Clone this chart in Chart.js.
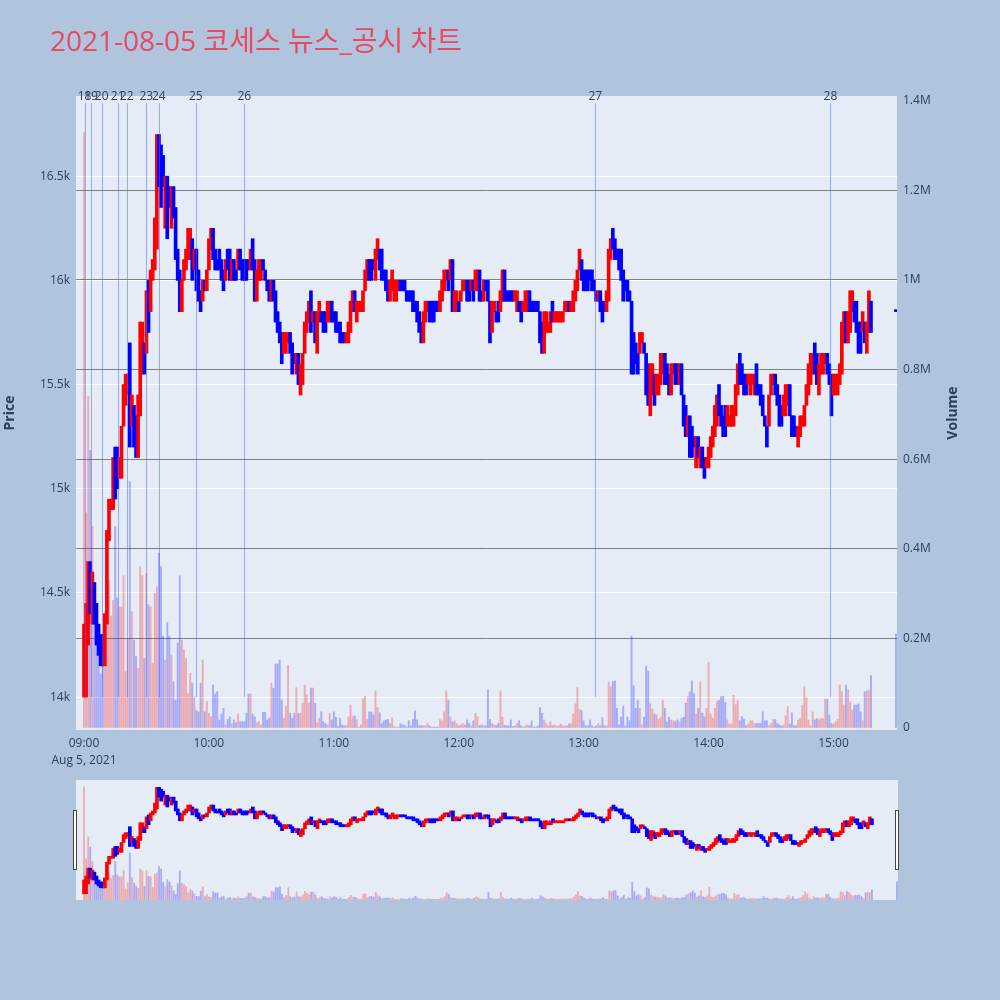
<!DOCTYPE html>
<html>
<head>
<meta charset="utf-8">
<script src="https://cdn.jsdelivr.net/npm/chart.js@4.4.1/dist/chart.umd.min.js"></script>
<style>
  html, body { margin: 0; padding: 0; background: #b0c4de; }
  #wrap { position: relative; width: 1000px; height: 1000px; overflow: hidden; }
  #main { position: absolute; left: 0; top: 0; }
  #slider { position: absolute; left: 76px; top: 780px; }
  .handle { position: absolute; top: 810px; width: 2px; height: 58px; background: #fff; border: 1px solid #444; }
</style>
</head>
<body>
<div id="wrap">
  <canvas id="main" width="1000" height="1000"></canvas>
  <canvas id="slider" width="822" height="120"></canvas>
  <div class="handle" style="left:73px"></div>
  <div class="handle" style="left:895px"></div>
</div>
<script>
// 2021-08-05 intraday, 1-minute bars from 09:00 to 15:18 plus the 15:30 closing print
const chartTitle = '2021-08-05 코세스 뉴스_공시 차트';
const dateLabel = 'Aug 5, 2021';

// minutes after 09:00 for each bar (continuous session, then closing auction)
const barMinutes = [];
for (let m = 0; m <= 378; m++) barMinutes.push(m);
barMinutes.push(390);

const openP = [
  14150,14300,14300,14650,14450,14550,14400,14300,14250,14250,
  14150,14400,14800,14900,14950,15150,15100,15050,15100,15300,
  15450,15500,15550,15300,15400,15300,15200,15400,15600,15700,
  15650,15950,15850,16000,16100,16250,16700,16550,16600,16300,
  16450,16450,16300,16450,16300,16150,16050,15850,16000,16050,
  16150,16150,16200,16050,16150,16000,15950,15900,16000,15950,
  16050,16150,16250,16150,16100,16150,16100,16050,16000,16150,
  16150,16000,16100,16050,16050,16150,16100,16100,16100,16100,
  16050,16150,16100,15900,16000,16050,16100,16050,16000,16000,
  15900,16000,15950,15850,15800,15750,15650,15650,15700,15750,
  15650,15650,15550,15650,15450,15500,15650,15750,15800,15950,
  15800,15850,15650,15800,15850,15850,15800,15800,15800,15900,
  15850,15850,15800,15800,15750,15750,15700,15700,15750,15850,
  15950,15800,15850,15850,15850,15950,16000,16100,16100,16100,
  16050,16100,16150,16100,16050,16050,16000,15900,15950,15900,
  15900,15950,16000,16000,16000,15950,15950,15950,15950,15900,
  15900,15850,15800,15700,15800,15850,15900,15900,15900,15900,
  15900,15850,15900,15950,16000,16050,16000,16100,15850,15850,
  15900,15900,15950,15950,16000,15950,15950,16000,15950,15950,
  16000,15950,15900,16000,15950,15900,15750,15850,15850,15900,
  15850,15900,16050,15950,15950,15950,15950,15900,15850,15900,
  15900,15850,15850,15850,15950,15900,15900,15900,15900,15850,
  15750,15650,15750,15750,15750,15900,15800,15800,15800,15800,
  15800,15850,15850,15900,15850,15900,15950,16000,16050,16100,
  16050,16050,16050,16050,16050,16000,15950,15900,15950,15900,
  15900,15850,15900,16100,16250,16200,16150,16150,16150,16050,
  16000,16000,15950,15900,15750,15700,15650,15650,15700,15700,
  15650,15550,15400,15450,15550,15450,15450,15500,15550,15650,
  15600,15550,15450,15550,15600,15600,15500,15600,15450,15350,
  15250,15350,15250,15250,15100,15250,15100,15200,15150,15100,
  15100,15150,15200,15250,15300,15500,15400,15350,15400,15300,
  15300,15300,15300,15350,15450,15650,15600,15550,15550,15500,
  15450,15500,15450,15600,15500,15500,15400,15350,15300,15300,
  15450,15500,15550,15500,15450,15400,15350,15400,15400,15500,
  15350,15350,15300,15200,15250,15300,15300,15400,15450,15500,
  15550,15650,15600,15450,15550,15550,15600,15650,15600,15500,
  15450,15450,15450,15500,15550,15700,15850,15700,15750,15850,
  15900,15900,15800,15800,15750,15800,15650,15750,15900,15850
];
const highP = [
  14350,14450,14650,14650,14600,14550,14450,14350,14300,14300,
  14400,14800,14950,14950,15150,15200,15200,15150,15300,15500,
  15550,15550,15700,15450,15400,15350,15450,15800,15800,15700,
  15950,16000,16050,16100,16300,16700,16700,16650,16600,16500,
  16500,16450,16450,16450,16350,16150,16050,16000,16100,16150,
  16250,16250,16200,16150,16150,16050,15950,16000,16000,16050,
  16200,16250,16250,16150,16100,16150,16100,16050,16100,16150,
  16150,16100,16100,16050,16150,16150,16100,16100,16100,16100,
  16150,16200,16100,16050,16100,16100,16100,16050,16000,16000,
  16000,16000,15950,15850,15800,15750,15750,15750,15750,15750,
  15700,15650,15650,15650,15600,15650,15800,15850,15900,15950,
  15850,15850,15850,15900,15850,15850,15850,15900,15900,15900,
  15850,15850,15800,15800,15750,15750,15750,15800,15900,15950,
  15950,15900,15900,15900,15950,16050,16100,16100,16100,16100,
  16150,16200,16150,16150,16050,16050,16000,16000,16050,16000,
  16000,16000,16000,16000,16000,15950,15950,15950,15950,15900,
  15900,15850,15800,15850,15900,15900,15900,15900,15900,15900,
  15900,15950,16000,16050,16050,16050,16100,16100,15950,15950,
  15900,15950,16000,16000,16000,16000,16000,16000,16050,16050,
  16050,15950,16000,16000,16000,15900,15900,15900,15850,15900,
  15950,16050,16050,15950,15950,15950,15950,15950,15950,15900,
  15900,15900,15950,15950,15950,15900,15900,15900,15900,15850,
  15800,15850,15850,15800,15850,15900,15850,15850,15850,15850,
  15850,15900,15900,15900,15900,15950,16000,16050,16150,16100,
  16050,16050,16050,16050,16050,16000,15950,15950,15950,15900,
  15900,15950,16150,16200,16250,16200,16150,16150,16150,16050,
  16000,16000,15950,15900,15750,15700,15650,15750,15750,15700,
  15650,15600,15600,15600,15550,15550,15550,15650,15650,15650,
  15600,15550,15600,15600,15600,15600,15600,15600,15450,15400,
  15350,15350,15300,15250,15250,15250,15200,15200,15150,15150,
  15200,15250,15300,15400,15450,15500,15400,15350,15400,15400,
  15350,15400,15400,15500,15600,15650,15600,15550,15550,15550,
  15550,15550,15550,15600,15500,15500,15450,15350,15300,15450,
  15550,15550,15550,15500,15450,15400,15450,15500,15500,15500,
  15350,15350,15300,15300,15350,15350,15400,15500,15600,15650,
  15650,15700,15650,15600,15650,15650,15650,15650,15600,15550,
  15550,15550,15550,15600,15800,15850,15850,15850,15950,15950,
  15900,15900,15800,15800,15850,15800,15800,15950,15900,15850
];
const lowP = [
  14000,14000,14250,14400,14350,14350,14250,14200,14150,14150,
  14150,14350,14750,14900,14900,14950,15000,15050,15050,15300,
  15400,15450,15200,15300,15200,15150,15150,15350,15550,15550,
  15650,15750,15850,16000,16050,16150,16450,16350,16450,16250,
  16200,16350,16250,16300,16100,16000,15850,15850,16000,16050,
  16100,16100,16000,16050,15950,15900,15850,15900,15950,15950,
  16050,16150,16100,16050,16050,16050,16000,15950,16000,16050,
  16000,16000,16000,16000,16050,16050,16000,16000,16000,16050,
  16050,16050,15900,15900,16000,16000,16050,16000,15950,15900,
  15900,15900,15800,15750,15700,15600,15650,15650,15700,15650,
  15550,15600,15550,15500,15450,15500,15650,15750,15800,15750,
  15800,15700,15650,15800,15800,15750,15750,15800,15800,15800,
  15800,15750,15750,15700,15700,15700,15700,15700,15750,15850,
  15850,15800,15850,15850,15850,15950,16000,16000,16000,16050,
  16000,16100,16050,16000,16000,15950,15900,15900,15950,15900,
  15900,15950,15950,15950,15950,15900,15900,15900,15850,15850,
  15800,15750,15700,15700,15800,15850,15800,15800,15800,15850,
  15850,15850,15900,15950,16000,15950,16000,15850,15850,15850,
  15850,15900,15950,15950,15900,15900,15950,15900,15950,15950,
  15900,15900,15900,15950,15900,15700,15750,15850,15800,15800,
  15850,15900,15900,15900,15900,15900,15900,15900,15850,15850,
  15800,15850,15850,15850,15850,15850,15850,15850,15850,15700,
  15650,15650,15750,15750,15750,15800,15800,15800,15800,15800,
  15800,15850,15850,15850,15850,15850,15900,15950,16050,16000,
  15950,15950,15950,16000,15950,15950,15900,15900,15850,15800,
  15850,15850,15900,16100,16150,16100,16100,16050,16000,15900,
  15950,15900,15900,15550,15550,15600,15550,15650,15700,15650,
  15450,15400,15350,15450,15400,15450,15450,15500,15550,15500,
  15500,15450,15450,15550,15500,15500,15500,15450,15300,15250,
  15250,15150,15150,15200,15100,15150,15100,15100,15050,15100,
  15100,15150,15200,15250,15300,15350,15300,15250,15250,15300,
  15300,15300,15300,15350,15450,15500,15500,15450,15450,15500,
  15450,15500,15450,15450,15450,15400,15350,15300,15200,15300,
  15450,15500,15450,15400,15300,15300,15350,15350,15400,15350,
  15250,15250,15250,15200,15250,15300,15300,15400,15450,15500,
  15550,15550,15500,15450,15550,15550,15600,15550,15500,15350,
  15450,15450,15450,15500,15550,15700,15700,15700,15750,15850,
  15800,15750,15650,15650,15750,15700,15650,15750,15750,15850
];
const closeP = [
  14300,14400,14650,14450,14550,14400,14300,14250,14200,14150,
  14400,14800,14950,14950,15150,15000,15050,15150,15300,15500,
  15550,15550,15300,15400,15250,15200,15450,15750,15750,15600,
  15950,15800,16050,16100,16250,16650,16500,16450,16450,16450,
  16300,16350,16450,16300,16150,16000,15850,16000,16100,16150,
  16250,16200,16050,16150,16000,15950,15900,16000,15950,16050,
  16200,16250,16150,16100,16050,16100,16050,16000,16100,16050,
  16050,16100,16000,16000,16150,16100,16050,16050,16000,16050,
  16150,16050,15950,16050,16100,16100,16050,16000,15950,15900,
  16000,15900,15850,15800,15750,15650,15750,15700,15750,15650,
  15600,15600,15650,15500,15600,15650,15800,15850,15900,15800,
  15850,15700,15850,15900,15800,15800,15750,15900,15900,15850,
  15800,15800,15750,15700,15700,15700,15750,15800,15900,15950,
  15850,15900,15900,15900,15950,16050,16100,16050,16000,16050,
  16150,16200,16100,16050,16000,15950,15900,16000,16050,16000,
  16000,16000,15950,15950,15950,15900,15900,15900,15850,15850,
  15800,15750,15700,15850,15900,15900,15800,15850,15800,15850,
  15850,15950,16000,16050,16050,16000,16100,15900,15950,15900,
  15850,15950,16000,16000,15900,15900,16000,15950,16050,16000,
  15950,15900,16000,15950,15900,15750,15850,15900,15800,15850,
  15950,16050,15950,15900,15900,15900,15900,15950,15950,15850,
  15850,15900,15950,15950,15850,15850,15850,15850,15850,15750,
  15650,15800,15800,15800,15850,15800,15850,15850,15850,15850,
  15850,15900,15900,15850,15900,15950,16000,16050,16100,16050,
  16000,15950,16000,16000,15950,15950,15900,15950,15850,15850,
  15850,15900,16100,16200,16150,16150,16100,16100,16050,15950,
  15950,15950,15900,15600,15650,15600,15600,15750,15750,15650,
  15500,15400,15550,15550,15450,15550,15500,15650,15650,15550,
  15550,15450,15600,15600,15550,15500,15600,15450,15350,15300,
  15350,15200,15200,15200,15250,15150,15200,15100,15100,15150,
  15200,15250,15300,15400,15450,15400,15300,15300,15300,15400,
  15350,15400,15350,15500,15600,15550,15500,15500,15450,15550,
  15550,15550,15550,15500,15450,15400,15350,15300,15250,15450,
  15550,15550,15500,15450,15350,15350,15450,15500,15500,15400,
  15300,15250,15250,15300,15350,15350,15400,15500,15600,15600,
  15650,15550,15500,15600,15650,15650,15650,15550,15500,15450,
  15500,15550,15550,15600,15800,15850,15750,15850,15950,15950,
  15800,15800,15700,15700,15850,15700,15800,15950,15850,15850
];
// volume in thousands of shares
const volumeK = [
  1330,480,740,620,450,300,220,180,120,200,
  260,440,330,250,285,450,290,270,270,340,
  126,200,550,260,196,160,133,360,340,155,
  345,275,270,144,300,315,390,360,205,152,
  235,205,163,103,62,190,340,196,174,155,
  77,122,100,70,39,36,100,152,36,59,
  33,25,96,76,81,18,31,44,7,19,
  25,10,18,12,31,14,14,14,33,76,
  76,31,25,12,14,7,35,35,18,22,
  100,89,143,143,152,62,22,49,140,33,
  22,33,90,33,33,55,96,74,55,89,
  89,55,12,22,36,14,10,7,33,18,
  36,24,4,22,7,5,5,25,51,25,
  27,18,2,7,65,70,19,36,36,29,
  83,46,34,10,16,18,19,10,22,3,
  2,2,10,7,6,2,16,5,19,38,
  18,5,5,5,5,10,5,2,2,2,
  2,19,16,36,83,62,25,14,16,10,
  5,7,10,7,18,10,5,16,33,25,
  5,7,5,5,85,19,10,7,5,10,
  83,24,6,5,5,18,3,5,10,16,
  5,2,5,7,5,16,2,2,5,46,
  33,18,10,5,14,5,7,5,5,9,
  5,5,5,9,10,31,54,91,42,39,
  16,5,5,18,5,2,5,10,5,23,
  5,5,103,92,104,105,44,7,25,49,
  5,25,16,205,94,44,62,44,7,24,
  138,127,54,42,31,29,19,24,62,44,
  13,24,18,16,14,18,14,22,24,55,
  70,81,105,77,31,44,103,33,25,44,
  146,31,22,44,59,62,70,71,57,18,
  9,9,73,52,62,16,25,19,5,9,
  16,16,10,10,10,10,36,16,16,5,
  10,19,19,10,7,5,7,27,48,9,
  34,5,5,18,22,51,92,68,18,5,
  36,18,21,18,21,21,64,64,29,10,
  9,14,19,96,81,51,96,86,58,40,
  51,51,54,36,16,81,83,85,117,210
];

// news / disclosure markers
const newsLabels = ['18', '19', '20', '21', '22', '23', '24', '25', '26', '27', '28'];
const newsMinutes = [0.3, 3.4, 8.5, 16.2, 20.5, 29.9, 35.9, 53.7, 77.0, 245.6, 358.5];

const xTickMinutes = [0, 60, 120, 180, 240, 300, 360];
const xTickLabels = ['09:00', '10:00', '11:00', '12:00', '13:00', '14:00', '15:00'];
const priceTicks = [14000, 14500, 15000, 15500, 16000, 16500];
const priceTickLabels = ['14k', '14.5k', '15k', '15.5k', '16k', '16.5k'];
const volumeTicks = [0, 200, 400, 600, 800, 1000, 1200, 1400];
const volumeTickLabels = ['0', '0.2M', '0.4M', '0.6M', '0.8M', '1M', '1.2M', '1.4M'];

// ---- styling ----
const FONT = '"Open Sans", "Noto Sans CJK KR", sans-serif';
const TXT = '#2a3f5f';
const PLOT_BG = '#e5ecf6';
const UP = '#ff0000';
const DOWN = '#0000ff';
const X_MIN = -3.84, X_MAX = 390.5;
const P_MIN = 13842, P_MAX = 16885;
const V_MIN = -4.5, V_MAX = 1410.7;

const isUp = barMinutes.map((_, i) => closeP[i] > openP[i]);
const priceColors = isUp.map(u => (u ? UP : DOWN));
const volColors = isUp.map(u => (u ? 'rgba(255,0,0,0.27)' : 'rgba(0,0,255,0.27)'));

const priceData = barMinutes.map((m, i) => ({ x: m, y: [lowP[i], highP[i]] }));
const volData = barMinutes.map((m, i) => ({ x: m, y: volumeK[i] }));

function datasets(priceWidth, volWidth) {
  return [
    {
      type: 'bar', data: priceData, backgroundColor: priceColors,
      barThickness: priceWidth, minBarLength: 2, grouped: false,
      yAxisID: 'y', order: 1
    },
    {
      type: 'bar', data: volData, backgroundColor: volColors,
      barThickness: volWidth, grouped: false,
      yAxisID: 'y2', order: 2
    }
  ];
}

const plotBg = {
  id: 'plotBg',
  beforeDraw(chart) {
    const { ctx, chartArea: a } = chart;
    ctx.save();
    ctx.fillStyle = PLOT_BG;
    ctx.fillRect(a.left, a.top, a.right - a.left, a.bottom - a.top);
    ctx.restore();
  }
};

const overlay = {
  id: 'overlay',
  afterDatasetsDraw(chart) {
    const { ctx, chartArea: a, scales } = chart;
    const x = scales.x, y = scales.y;
    ctx.save();
    // news lines
    ctx.strokeStyle = 'rgba(70,100,255,0.5)';
    ctx.lineWidth = 1;
    newsMinutes.forEach(m => {
      const px = Math.round(x.getPixelForValue(m)) + 0.5;
      ctx.beginPath();
      ctx.moveTo(px, y.getPixelForValue(14000));
      ctx.lineTo(px, y.getPixelForValue(16850));
      ctx.stroke();
    });
    // news labels
    ctx.fillStyle = TXT;
    ctx.font = '12px ' + FONT;
    ctx.textAlign = 'center';
    ctx.textBaseline = 'middle';
    newsMinutes.forEach((m, i) => {
      ctx.fillText(newsLabels[i], x.getPixelForValue(m), a.top + 1);
    });
    // axis titles
    ctx.font = 'bold 14px ' + FONT;
    ctx.translate(10, (a.top + a.bottom) / 2);
    ctx.rotate(-Math.PI / 2);
    ctx.fillText('Price', 0, 0);
    ctx.setTransform(1, 0, 0, 1, 0, 0);
    ctx.translate(953, (a.top + a.bottom) / 2);
    ctx.rotate(-Math.PI / 2);
    ctx.fillText('Volume', 0, 0);
    ctx.setTransform(1, 0, 0, 1, 0, 0);
    // chart title
    ctx.font = '28px ' + FONT;
    ctx.fillStyle = '#e84a5f';
    ctx.textAlign = 'left';
    ctx.textBaseline = 'alphabetic';
    ctx.fillText(chartTitle, 50, 51);
    ctx.restore();
  }
};

new Chart(document.getElementById('main'), {
  type: 'bar',
  data: { datasets: datasets(3, 1.3) },
  options: {
    responsive: false, animation: false, devicePixelRatio: 1,
    layout: { padding: { top: 96, left: 0, right: 0, bottom: 0 } },
    plugins: { legend: { display: false }, tooltip: { enabled: false } },
    scales: {
      x: {
        type: 'linear', min: X_MIN, max: X_MAX, offset: false,
        grid: { display: false, drawTicks: false }, border: { display: false },
        afterBuildTicks: s => { s.ticks = xTickMinutes.map(v => ({ value: v })); },
        afterFit: s => { s.height = 270; },
        ticks: {
          autoSkip: false, maxRotation: 0, padding: 5, color: TXT,
          font: { family: FONT, size: 12, lineHeight: 1.4 },
          callback: v => {
            const i = xTickMinutes.indexOf(v);
            return i === 0 ? [xTickLabels[0], dateLabel] : xTickLabels[i];
          }
        }
      },
      y: {
        position: 'left', min: P_MIN, max: P_MAX,
        grid: { color: '#ffffff', lineWidth: 1, drawTicks: false }, border: { display: false },
        afterBuildTicks: s => { s.ticks = priceTicks.map(v => ({ value: v })); },
        afterFit: s => { s.width = 76; },
        ticks: {
          padding: 6, color: TXT, font: { family: FONT, size: 12 },
          callback: v => priceTickLabels[priceTicks.indexOf(v)]
        }
      },
      y2: {
        position: 'right', min: V_MIN, max: V_MAX,
        grid: {
          drawTicks: false, lineWidth: 1,
          color: c => (c.tick && (c.tick.value === 0 || c.tick.value === 1400) ? 'rgba(0,0,0,0)' : '#808080')
        },
        border: { display: false },
        afterBuildTicks: s => { s.ticks = volumeTicks.map(v => ({ value: v })); },
        afterFit: s => { s.width = 103; },
        ticks: {
          padding: 6, color: TXT, font: { family: FONT, size: 12 },
          callback: v => volumeTickLabels[volumeTicks.indexOf(v)]
        }
      }
    }
  },
  plugins: [plotBg, overlay]
});

// range slider preview
new Chart(document.getElementById('slider'), {
  type: 'bar',
  data: { datasets: datasets(3, 1.2) },
  options: {
    responsive: false, animation: false, devicePixelRatio: 1,
    layout: { padding: 0 },
    plugins: { legend: { display: false }, tooltip: { enabled: false } },
    scales: {
      x: { type: 'linear', min: X_MIN, max: X_MAX, offset: false, display: false },
      y: { min: P_MIN, max: P_MAX, display: false },
      y2: { min: V_MIN, max: V_MAX, display: false }
    }
  },
  plugins: [plotBg]
});
</script>
</body>
</html>
